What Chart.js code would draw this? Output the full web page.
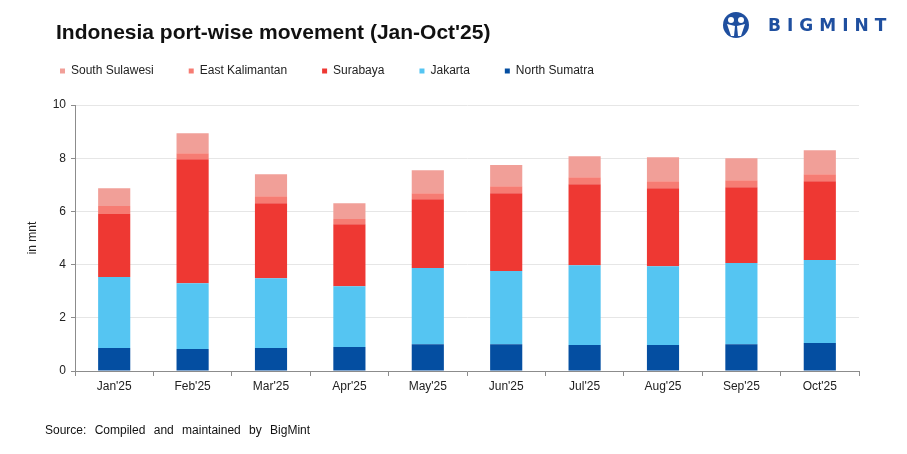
<!DOCTYPE html>
<html>
<head>
<meta charset="utf-8">
<script src="https://cdn.jsdelivr.net/npm/chart.js@4.4.1/dist/chart.umd.min.js"></script>
<style>
    body { margin: 0; background: #fff; font-family: "Liberation Sans", Arial, sans-serif; }
    #wrap { position: relative; width: 907px; height: 454px; }
    #title { position: absolute; left: 56px; top: 20px; font-size: 21px; font-weight: bold; color: #111; }
    #source { position: absolute; left: 45px; top: 423px; font-size: 12px; color: #111; word-spacing: 5px; }
    #logo { position: absolute; left: 723px; top: 11px; height: 28px; display: flex; align-items: center; }
    #logo span { margin-left: 19px; font-family: "DejaVu Sans", sans-serif; font-weight: bold; font-size: 17px; letter-spacing: 6px; color: #1f4f9f; }
</style>
</head>
<body>
<div id="wrap">
    <canvas id="port-chart"></canvas>
    <div id="title">Indonesia port-wise movement (Jan-Oct'25)</div>
    <div id="logo">
        <svg width="26" height="26" viewBox="0 0 26 26">
            <circle cx="13" cy="13" r="13" fill="#1f4f9f"/>
            <circle cx="8" cy="8" r="3" fill="#fff"/>
            <circle cx="18" cy="8" r="3" fill="#fff"/>
            <path d="M4 12 L8 24 L11 24 L12 14 Z" fill="#fff"/>
            <path d="M22 12 L18 24 L15 24 L14 14 Z" fill="#fff"/>
        </svg>
        <span>BIGMINT</span>
    </div>
    <div id="source">Source: Compiled and maintained by BigMint</div>
</div>
<script>
    "use strict";

    // months
    var months = ["Jan'25", "Feb'25", "Mar'25", "Apr'25", "May'25", "Jun'25", "Jul'25", "Aug'25", "Sep'25", "Oct'25"];

    // port volumes (mnt)
    var north_sumatra = [0.86, 0.83, 0.86, 0.90, 1.01, 1.01, 0.98, 0.98, 1.01, 1.05];
    var jakarta = [2.67, 2.47, 2.63, 2.29, 2.86, 2.75, 3.00, 2.96, 3.05, 3.12];
    var surabaya = [2.37, 4.66, 2.82, 2.33, 2.59, 2.92, 3.04, 2.93, 2.85, 2.96];
    var east_kalimantan = [0.30, 0.23, 0.26, 0.19, 0.22, 0.27, 0.26, 0.26, 0.26, 0.27];
    var south_sulawesi = [0.67, 0.75, 0.83, 0.60, 0.87, 0.79, 0.79, 0.91, 0.83, 0.90];

    var y_ticks = [0, 2, 4, 6, 8, 10];

    var axis_color = "#8c8c8c";
    var text_color = "#222";
    Chart.defaults.font.family = "'Liberation Sans', Arial, sans-serif";
    Chart.defaults.font.size = 12;
    Chart.defaults.color = text_color;

    // legend height fix
    var legendHeight = {
        id: "legendHeight",
        beforeInit: function (chart) {
            var fit = chart.legend.fit;
            chart.legend.fit = function () {
                fit.call(this);
                this.height = 75;
            };
        },
    };

    function bar(label, data, color) {
        return {
            label: label,
            data: data,
            backgroundColor: color,
            stack: "ports",
            barPercentage: 0.41,
            categoryPercentage: 1,
        };
    }

    var ctx = document.getElementById("port-chart").getContext("2d");
    var portChart = new Chart(ctx, {
        type: "bar",
        data: {
            labels: months,
            datasets: [
                bar("North Sumatra", north_sumatra, "#044ea1"),
                bar("Jakarta", jakarta, "#55c5f2"),
                bar("Surabaya", surabaya, "#ee3833"),
                bar("East Kalimantan", east_kalimantan, "#f67c73"),
                bar("South Sulawesi", south_sulawesi, "#f19f98"),
            ],
        },
        options: {
            responsive: true,
            maintainAspectRatio: false,
            animation: false,
            layout: {
                padding: { left: 25, right: 48, top: 30, bottom: 53 },
            },
            plugins: {
                legend: {
                    position: "top",
                    align: "start",
                    reverse: true,
                    labels: {
                        boxWidth: 5,
                        boxHeight: 5,
                        padding: 35,
                        color: text_color,
                        font: { size: 12 },
                    },
                },
                tooltip: { enabled: false },
            },
            scales: {
                x: {
                    stacked: true,
                    afterFit: function (scale) {
                        scale.height = 30;
                    },
                    border: { color: axis_color },
                    grid: {
                        offset: true,
                        drawOnChartArea: false,
                        tickLength: 5,
                        color: axis_color,
                    },
                    ticks: { padding: 3, color: text_color },
                },
                y: {
                    stacked: true,
                    min: 0,
                    max: 10,
                    afterFit: function (scale) {
                        scale.width = 50;
                    },
                    afterBuildTicks: function (scale) {
                        scale.ticks = y_ticks.map(function (v) {
                            return { value: v };
                        });
                    },
                    border: { color: axis_color },
                    grid: {
                        color: "#e6e6e6",
                        tickColor: axis_color,
                        tickLength: 4,
                    },
                    ticks: { padding: 5, color: text_color },
                    title: {
                        display: true,
                        text: "in mnt",
                        color: text_color,
                        padding: { top: 0, bottom: 0 },
                        font: { size: 12 },
                    },
                },
            },
        },
        plugins: [legendHeight],
    });
</script>
</body>
</html>
